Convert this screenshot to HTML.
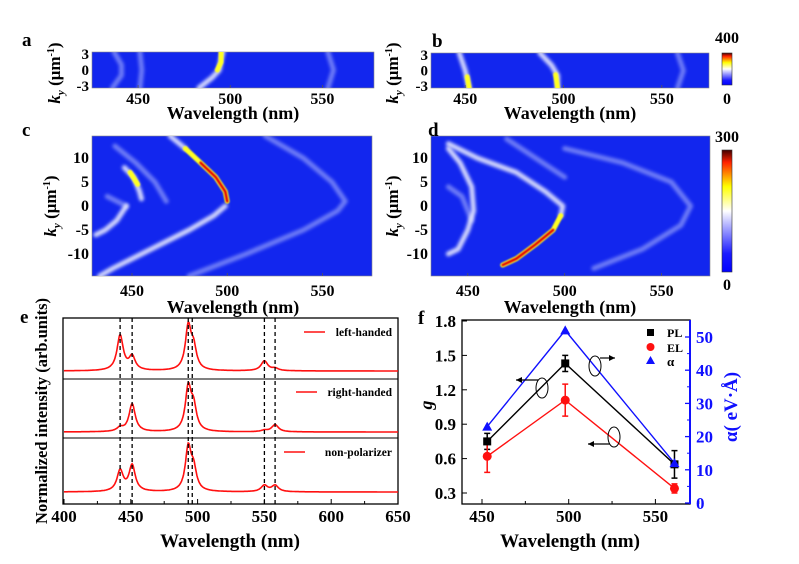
<!DOCTYPE html>
<html><head><meta charset="utf-8"><style>
body{margin:0;background:#fff}
svg text{font-family:"Liberation Serif",serif;font-weight:bold}
</style></head><body>
<svg id="fig" width="799" height="559" viewBox="0 0 799 559" xmlns="http://www.w3.org/2000/svg">
<defs>
<filter id="blur" filterUnits="userSpaceOnUse" x="0" y="0" width="799" height="559"><feGaussianBlur stdDeviation="1.6"/></filter>
<filter id="blur2" filterUnits="userSpaceOnUse" x="0" y="0" width="799" height="559"><feGaussianBlur stdDeviation="0.9"/></filter>
<linearGradient id="cbar" x1="0" y1="1" x2="0" y2="0">
<stop offset="0" stop-color="#0000ff"/><stop offset="0.15" stop-color="#1a1aff"/><stop offset="0.5" stop-color="#ffffff"/><stop offset="0.7" stop-color="#ffff00"/><stop offset="0.9" stop-color="#ff2000"/><stop offset="1" stop-color="#400000"/>
</linearGradient>
<clipPath id="clipA"><rect x="92" y="52" width="282" height="36"/></clipPath>
<clipPath id="clipB"><rect x="431" y="53" width="278" height="35"/></clipPath>
<clipPath id="clipC"><rect x="92" y="136" width="280" height="140"/></clipPath>
<clipPath id="clipD"><rect x="431" y="136" width="279" height="140"/></clipPath>
</defs>
<g id="maps"></g>
<g id="specE"></g>
<g id="plotF"></g>
</svg>
<script>
// ===== Heatmap curve data (wavelength nm, ky) =====
const aWhite=[[[496,3.4],[495,2],[494,0],[490,-1.5],[483,-3.4]]];
const aFaint=[[[437,3.4],[441,1],[441,-1],[436,-3.4]],[[451,3.4],[452,0],[451,-3.4]],[[553,3.4],[556,0],[553,-3.4]]];
const aHot=[[[495,3.4],[495,1.5],[493,0]]];
const bWhite=[[[447,3.4],[450,0],[452,-3.4]],[[488,3.4],[494,1],[497,-1],[497,-3.4]]];
const bFaint=[[[558,3.4],[561,0],[558,-3.4]]];
const bHot=[[[451,-1.2],[452,-3.4]],[[496,-0.8],[497,-3.4]]];
const cWhite=[[[499,0],[493,-2],[480,-5],[460,-9],[440,-13],[433,-14.6]],[[446,8],[451,6],[454,3],[455,1.5]],[[447,0],[442,-3],[436,-5],[431,-6]],[[470,14.6],[478,12]]];
const cFaint=[[[441,12.5],[452,9],[462,5],[468,1]],[[520,14.6],[540,10],[555,5],[562,1],[558,-1],[540,-5],[510,-10],[480,-14.6]],[[437,2],[447,0]]];
const cHot=[[[478,12],[486,9],[494,6],[499,3],[500,1]],[[449,7],[453,4.5]]];
const dWhite=[[[440,13],[455,10],[475,7],[490,3],[499,0],[498,-2]],[[440,12],[446,9],[452,4],[453,-1],[450,-5],[445,-9],[440,-10]]];
const dFaint=[[[500,12],[530,9],[555,5],[565,0],[560,-4],[540,-9],[515,-13]],[[440,4],[447,2],[452,-3]],[[470,14],[485,10],[500,6]]];
const dHot=[[[498,-2],[494,-5],[485,-8],[475,-11],[468,-12.3]]];

// ===== Spectra (peak centers nm, amplitudes, widths nm) =====
const peakCenters=[442,451,493,497,550,558];
const peakWidths=[2.8,2.8,2.6,2.6,3,3];
const ampLeft=[0.78,0.3,0.95,0.45,0.22,0.05];
const ampRight=[0.08,0.62,0.95,0.5,0.03,0.16];
const ampNon=[0.46,0.58,0.95,0.45,0.14,0.14];
const dashLines=[442,451,493,496,550,558];
const eTicks=[400,450,500,550,600,650];

// ===== Panel f data =====
const fWave=[453,498,561];
const gPL=[0.75,1.43,0.55];
const gPLerr=[0.07,0.07,0.12];
const gEL=[0.62,1.11,0.34];
const gELerr=[0.14,0.14,0.04];
const alpha=[23,52,12];
const fXTicks=[450,500,550];
const fGTicks=[0.3,0.6,0.9,1.2,1.5,1.8];
const fATicks=[0,10,20,30,40,50];

const NS="http://www.w3.org/2000/svg";
function mk(tag,attrs,parent,txt){const e=document.createElementNS(NS,tag);for(const k in attrs)e.setAttribute(k,attrs[k]);if(txt!==undefined)e.textContent=txt;parent.appendChild(e);return e;}
const maps=document.getElementById('maps');

function panel(name,box,white,faint,hot,redCore,xticks,yticks){
  const g=mk('g',{},maps);
  
  
  const sx=l=>box.x0+(l-box.l0)/(box.l1-box.l0)*(box.x1-box.x0);
  const sy=k=>box.y0+(box.k1-k)/(box.k1-box.k0)*(box.y1-box.y0);
  const bg=mk('rect',{x:box.x0,y:box.y0,width:box.x1-box.x0,height:box.y1-box.y0,fill:'#1226ee',stroke:'#888','stroke-width':0.6},g);
  
  
  const cg=mk('g',{'clip-path':'url(#'+box.clip+')'},g);
  const pathOf=pts=>{let d='';pts.forEach((p,i)=>{const x=sx(p[0]),y=sy(p[1]);d+=(i?' L':'M')+x.toFixed(1)+' '+y.toFixed(1);});return d;};
  faint.forEach(c=>{const p=mk('path',{d:pathOf(c),fill:'none',stroke:'#c8d0ff','stroke-width':box.w,'stroke-opacity':0.5,filter:'url(#blur)','stroke-linecap':'round','stroke-linejoin':'round'},cg);
    });
  white.forEach(c=>{const p=mk('path',{d:pathOf(c),fill:'none',stroke:'#f4f6ff','stroke-width':box.w,'stroke-opacity':0.85,filter:'url(#blur)','stroke-linecap':'round','stroke-linejoin':'round'},cg);
    });
  hot.forEach(c=>{const p=mk('path',{d:pathOf(c),fill:'none',stroke:'#ffff20','stroke-width':box.w,filter:'url(#blur2)','stroke-linecap':'round','stroke-linejoin':'round'},cg);
    
    if(redCore){const q=mk('path',{d:pathOf(c.slice(1)),fill:'none',stroke:'#e00000','stroke-width':2.6,filter:'url(#blur2)','stroke-linecap':'round'},cg);
      }
  });
  xticks.forEach(t=>{mk('line',{x1:sx(t),x2:sx(t),y1:box.y1,y2:box.y1-3,stroke:'#555','stroke-width':0.8},g);
    const tx=mk('text',{x:sx(t),y:box.y1+box.tdy,'text-anchor':'middle','font-size':16},g,t);
    });
  yticks.forEach(t=>{const tx=mk('text',{x:box.x0-3,y:sy(t)+5,'text-anchor':'end','font-size':box.fs},g,t);
    });
  return {sx,sy};
}
const ab={k0:-3.4,k1:3.4,w:5,tdy:16};
panel('heatmap-a',Object.assign({x0:92,x1:374,y0:52,y1:88,l0:425,l1:578,clip:'clipA',fs:15},ab),aWhite,aFaint,aHot,false,[450,500,550],[3,0,-3]);
panel('heatmap-b',Object.assign({x0:431,x1:709,y0:53,y1:88,l0:432.6,l1:574,clip:'clipB',fs:15},ab),bWhite,bFaint,bHot,false,[450,500,550],[3,0,-3]);
const cd={k0:-14.6,k1:14.6,y0:136,y1:276,w:5,tdy:20};
panel('heatmap-c',Object.assign({x0:92,x1:372,l0:429,l1:576,clip:'clipC',fs:16},cd),cWhite,cFaint,cHot,true,[450,500,550],[10,5,0,-5,-10]);
panel('heatmap-d',Object.assign({x0:431,x1:710,l0:431,l1:575,clip:'clipD',fs:16},cd),dWhite,dFaint,dHot,true,[450,500,550],[10,5,0,-5,-10]);

// colorbars & labels
function txt(parent,x,y,s,size,name,extra){const t=mk('text',Object.assign({x:x,y:y,'font-size':size},extra||{}),parent,s);return t;}
let cb=mk('rect',{x:722,y:53,width:10,height:32,fill:'url(#cbar)',stroke:'#333','stroke-width':0.6},maps);

cb=mk('rect',{x:722,y:150,width:10,height:122,fill:'url(#cbar)',stroke:'#333','stroke-width':0.6},maps);

txt(maps,727,43,'400',16,'colorbar-ab-max',{'text-anchor':'middle'});
txt(maps,727,104,'0',16,'colorbar-ab-min',{'text-anchor':'middle'});
txt(maps,727,142,'300',16,'colorbar-cd-max',{'text-anchor':'middle'});
txt(maps,727,290,'0',16,'colorbar-cd-min',{'text-anchor':'middle'});
txt(maps,22,46,'a',19,'panel-label-a');
txt(maps,432,47,'b',19,'panel-label-b');
txt(maps,22,136,'c',19,'panel-label-c');
txt(maps,428,136,'d',19,'panel-label-d');
txt(maps,20,323,'e',19,'panel-label-e');
txt(maps,418,324,'f',19,'panel-label-f');
txt(maps,233,119,'Wavelength (nm)',18,'x-axis-title-a',{'text-anchor':'middle'});
txt(maps,570,119,'Wavelength (nm)',18,'x-axis-title-b',{'text-anchor':'middle'});
txt(maps,233,313,'Wavelength (nm)',18,'x-axis-title-c',{'text-anchor':'middle'});
txt(maps,570,313,'Wavelength (nm)',18,'x-axis-title-d',{'text-anchor':'middle'});
function kyLabel(x,y,name){const t=mk('text',{x:0,y:0,'font-size':17,transform:'translate('+x+','+y+') rotate(-90)','text-anchor':'middle'},maps);
  
  mk('tspan',{'font-style':'italic'},t,'k');mk('tspan',{'font-size':11,dy:4,'font-style':'italic'},t,'y');mk('tspan',{dy:-4},t,' (μm');mk('tspan',{'font-size':10,dy:-6},t,'-1');mk('tspan',{dy:6},t,')');}
kyLabel(60,73,'y-axis-title-a');kyLabel(398,73,'y-axis-title-b');kyLabel(56,206,'y-axis-title-c');kyLabel(398,206,'y-axis-title-d');

// ===== Panel e =====
const E=document.getElementById('specE');
const ex=l=>64+(l-400)*(334/250);
const baselines=[371,432,492];
const escale=45;
const ampSets=[ampLeft,ampRight,ampNon];
const legendNames=['left-handed','right-handed','non-polarizer'];
let fr=mk('rect',{x:63,y:318,width:335,height:186,fill:'none',stroke:'#000','stroke-width':1.3},E);

[379,438].forEach(y=>{const l=mk('line',{x1:63,x2:398,y1:y,y2:y,stroke:'#000','stroke-width':1},E);});
ampSets.forEach((amps,si)=>{
  let d='';
  for(let l=400;l<=650;l+=0.5){let v=0;for(let i=0;i<peakCenters.length;i++){const z=(l-peakCenters[i])/peakWidths[i];v+=amps[i]/(1+z*z);}
    d+=(l===400?'M':' L')+ex(l).toFixed(1)+' '+(baselines[si]-v*escale).toFixed(1);}
  const p=mk('path',{d:d,fill:'none',stroke:'#ff1010','stroke-width':1.6},E);
  
  const ly=[332,392,452][si];
  const ll=mk('line',{x1:[304,296,284][si],x2:[325,317,305][si],y1:ly,y2:ly,stroke:'#ff1010','stroke-width':1.6},E);
  
  txt(E,392,ly+4,legendNames[si],11.5,'legend-entry-'+legendNames[si],{'text-anchor':'end'});
});
dashLines.forEach(l=>{const ln=mk('line',{x1:ex(l),x2:ex(l),y1:318,y2:504,stroke:'#000','stroke-width':1.3,'stroke-dasharray':'4,3'},E);
  });
eTicks.forEach((t,i)=>{mk('line',{x1:ex(t),x2:ex(t),y1:504,y2:499,stroke:'#000','stroke-width':1},E);
  if(i<eTicks.length-1)mk('line',{x1:ex(t+25),x2:ex(t+25),y1:504,y2:501,stroke:'#000','stroke-width':1},E);
  txt(E,ex(t),522,String(t),17,'x-tick-label-e',{'text-anchor':'middle'});});
txt(E,230,547,'Wavelength (nm)',19,'x-axis-title-e',{'text-anchor':'middle'});
txt(E,0,0,'Normalized intensity (arb.units)',16.5,'y-axis-title-e',{'text-anchor':'middle',transform:'translate(47,411) rotate(-90)'});

// ===== Panel f =====
const F=document.getElementById('plotF');
const fx=l=>482+(l-450)*(173.4/100);
const fy=g=>321+(1.8-g)/0.3*34.4;
const fa=a=>503-a*3.32;
fr=mk('rect',{x:462,y:320,width:228,height:184,fill:'none',stroke:'#000','stroke-width':1.3},F);

const ra=mk('line',{x1:690,x2:690,y1:320,y2:504,stroke:'#1010ff','stroke-width':2},F);

fXTicks.forEach(t=>{mk('line',{x1:fx(t),x2:fx(t),y1:504,y2:499,stroke:'#000'},F);mk('line',{x1:fx(t+25),x2:fx(t+25),y1:504,y2:501,stroke:'#000'},F);
  txt(F,fx(t),522,String(t),17,'x-tick-label-f',{'text-anchor':'middle'});});
fGTicks.forEach(t=>{mk('line',{x1:462,x2:467,y1:fy(t),y2:fy(t),stroke:'#000'},F);
  txt(F,456,fy(t)+6,t.toFixed(1),17,'y-tick-label-f',{'text-anchor':'end'});});
fATicks.forEach(t=>{mk('line',{x1:690,x2:685,y1:fa(t),y2:fa(t),stroke:'#1010ff','stroke-width':1.3},F);
  if(t<50)mk('line',{x1:690,x2:687,y1:fa(t+5),y2:fa(t+5),stroke:'#1010ff'},F);
  txt(F,696,fa(t)+6,String(t),17,'right-tick-label-f',{fill:'#1010ff'});});
txt(F,570,547,'Wavelength (nm)',19,'x-axis-title-f',{'text-anchor':'middle'});
txt(F,0,0,'g',18,'y-axis-title-f',{'font-style':'italic','text-anchor':'middle',transform:'translate(432,405) rotate(-90)'});
txt(F,0,0,'α( eV·Å)',19,'right-axis-title-f',{fill:'#1010ff','text-anchor':'middle',transform:'translate(737,407) rotate(-90)'});
function series(vals,map,color,name){let d='';vals.forEach((v,i)=>{d+=(i?' L':'M')+fx(fWave[i]).toFixed(1)+' '+map(v).toFixed(1);});
  const p=mk('path',{d:d,fill:'none',stroke:color,'stroke-width':1.4},F);}
series(alpha,fa,'#1010ff','alpha');series(gPL,fy,'#000','pl');series(gEL,fy,'#ff1010','el');
function errs(vals,errsA,color,name){vals.forEach((v,i)=>{const x=fx(fWave[i]);const e=mk('path',{d:'M'+x+' '+fy(v-errsA[i])+' L'+x+' '+fy(v+errsA[i])+' M'+(x-3)+' '+fy(v-errsA[i])+' h6 M'+(x-3)+' '+fy(v+errsA[i])+' h6',stroke:color,'stroke-width':1.5,fill:'none'},F);
  });}
errs(gPL,gPLerr,'#000','pl');errs(gEL,gELerr,'#ff1010','el');
gPL.forEach((v,i)=>{const r=mk('rect',{x:fx(fWave[i])-4,y:fy(v)-4,width:8,height:8,fill:'#000'},F);});
gEL.forEach((v,i)=>{const c=mk('circle',{cx:fx(fWave[i]),cy:fy(v),r:4.5,fill:'#ff1010'},F);});
alpha.forEach((v,i)=>{const x=fx(fWave[i]),y=fa(v);const t=mk('path',{d:'M'+x+' '+(y-5)+' L'+(x+5)+' '+(y+4)+' L'+(x-5)+' '+(y+4)+'Z',fill:'#1010ff'},F);});
// legend
let lg=mk('rect',{x:647,y:329,width:7,height:7,fill:'#000'},F);
lg=mk('circle',{cx:650.5,cy:347,r:4,fill:'#ff1010'},F);
lg=mk('path',{d:'M650.5 356 L655 364 L646 364Z',fill:'#1010ff'},F);
txt(F,667,337,'PL',12,'legend-entry-pl');txt(F,667,352,'EL',12,'legend-entry-el');txt(F,667,366,'α',13,'legend-entry-alpha');
// annotations
[[542,388,538,380,516,380],[595,366,600,358,615,358],[614,437,610,444,588,444]].forEach(a=>{
  const e=mk('ellipse',{cx:a[0],cy:a[1],rx:6,ry:10,fill:'none',stroke:'#000','stroke-width':1},F);
  const l=mk('line',{x1:a[2],y1:a[3],x2:a[4],y2:a[5],stroke:'#000','stroke-width':1.2},F);
  const dir=Math.sign(a[4]-a[2]);mk('path',{d:'M'+a[4]+' '+a[5]+' l'+(-6*dir)+' -3 l0 6Z',fill:'#000'},F);
});
</script>
</body></html>
